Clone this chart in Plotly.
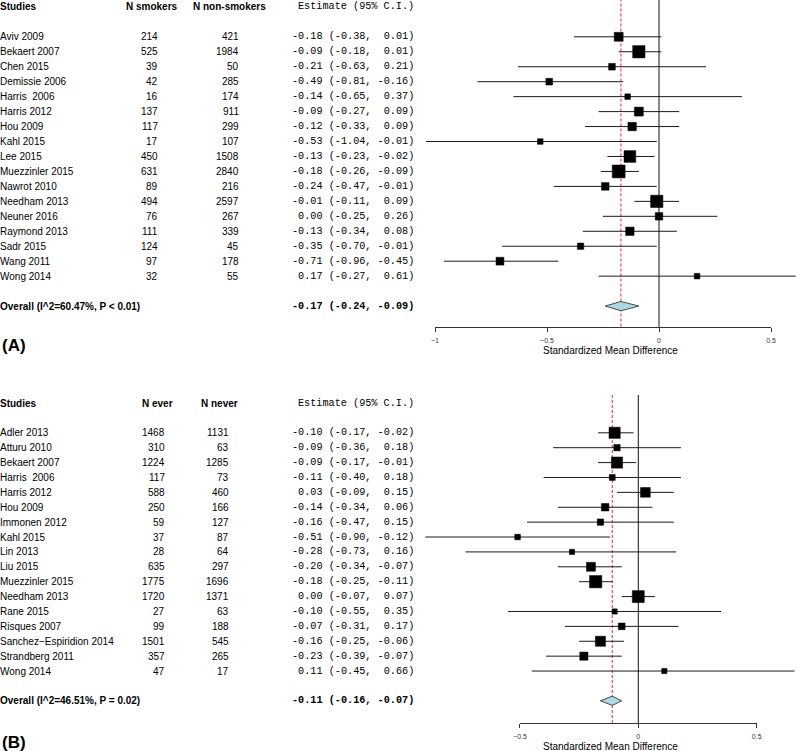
import plotly.graph_objects as go

# ---------------- Panel A: smokers vs non-smokers ----------------
studies_A = ["Aviv 2009", "Bekaert 2007", "Chen 2015", "Demissie 2006", "Harris  2006",
             "Harris 2012", "Hou 2009", "Kahl 2015", "Lee 2015", "Muezzinler 2015",
             "Nawrot 2010", "Needham 2013", "Neuner 2016", "Raymond 2013", "Sadr 2015",
             "Wang 2011", "Wong 2014"]
n_smokers = [214, 525, 39, 42, 16, 137, 117, 17, 450, 631, 89, 494, 76, 111, 124, 97, 32]
n_nonsmokers = [421, 1984, 50, 285, 174, 911, 299, 107, 1508, 2840, 216, 2597, 267, 339, 45, 178, 55]
est_A = [-0.18, -0.09, -0.21, -0.49, -0.14, -0.09, -0.12, -0.53, -0.13, -0.18,
         -0.24, -0.01, 0.00, -0.13, -0.35, -0.71, 0.17]
lo_A = [-0.38, -0.18, -0.63, -0.81, -0.65, -0.27, -0.33, -1.04, -0.23, -0.26,
        -0.47, -0.11, -0.25, -0.34, -0.70, -0.96, -0.27]
hi_A = [0.01, 0.01, 0.21, -0.16, 0.37, 0.09, 0.09, -0.01, -0.02, -0.09,
        -0.01, 0.09, 0.26, 0.08, -0.01, -0.45, 0.61]
# relative study weights
weight_A = [8, 11, 6, 6, 5, 8, 7.5, 5, 10.5, 11.5, 6.8, 11, 6.7, 7.5, 5.7, 7, 5]
overall_A = (-0.17, -0.24, -0.09)
overall_label_A = "Overall (I^2=60.47%, P < 0.01)"
col_headers_A = ["Studies", "N smokers", "N non-smokers", "Estimate (95% C.I.)"]
ticks_A = [-1, -0.5, 0, 0.5]
tick_labels_A = ["\u22121", "\u22120.5", "0", "0.5"]

# ---------------- Panel B: ever vs never ----------------
studies_B = ["Adler 2013", "Atturu 2010", "Bekaert 2007", "Harris  2006", "Harris 2012",
             "Hou 2009", "Immonen 2012", "Kahl 2015", "Lin 2013", "Liu 2015",
             "Muezzinler 2015", "Needham 2013", "Rane 2015", "Risques 2007",
             "Sanchez\u2212Espiridion 2014", "Strandberg 2011", "Wong 2014"]
n_ever = [1468, 310, 1224, 117, 588, 250, 59, 37, 28, 635, 1775, 1720, 27, 99, 1501, 357, 47]
n_never = [1131, 63, 1285, 73, 460, 166, 127, 87, 64, 297, 1696, 1371, 63, 188, 545, 265, 17]
est_B = [-0.10, -0.09, -0.09, -0.11, 0.03, -0.14, -0.16, -0.51, -0.28, -0.20,
         -0.18, 0.00, -0.10, -0.07, -0.16, -0.23, 0.11]
lo_B = [-0.17, -0.36, -0.17, -0.40, -0.09, -0.34, -0.47, -0.90, -0.73, -0.34,
        -0.25, -0.07, -0.55, -0.31, -0.25, -0.39, -0.45]
hi_B = [-0.02, 0.18, -0.01, 0.18, 0.15, 0.06, 0.15, -0.12, 0.16, -0.07,
        -0.11, 0.07, 0.35, 0.17, -0.06, -0.07, 0.66]
weight_B = [10, 5.7, 10, 5.3, 8.7, 6.7, 5.7, 5, 4.7, 8, 11, 10.7, 4.7, 6, 9, 7.3, 4.7]
overall_B = (-0.11, -0.16, -0.07)
overall_label_B = "Overall (I^2=46.51%, P = 0.02)"
col_headers_B = ["Studies", "N ever", "N never", "Estimate (95% C.I.)"]
ticks_B = [-0.5, 0, 0.5]
tick_labels_B = ["\u22120.5", "0", "0.5"]

axis_title = "Standardized Mean Difference"

# ---------------- layout constants (pixels) ----------------
W, H = 796, 751
SANS = "Liberation Sans, Arial, Helvetica, sans-serif"
MONO = "Liberation Mono, Courier New, monospace"
TXT = "#000000"
BOX_SCALE = 1.12


def fmt_est(e, l, h):
    s = "%5.2f (%5.2f, %5.2f)" % (e, l, h)
    return s.replace(" ", "\u00a0")


def nb(s):
    return s.replace("  ", " \u00a0")


fig = go.Figure()
annotations = []
shapes = []


def build_panel(p):
    xa, ya, xv = p["xa"], p["ya"], p["xv"]
    rows = list(range(len(p["studies"])))
    ov_row = len(rows) + 1
    # CI lines
    xs, ys = [], []
    for r, l, h in zip(rows, p["lo"], p["hi"]):
        xs += [l, h, None]
        ys += [r, r, None]
    fig.add_trace(go.Scatter(x=xs, y=ys, mode="lines", line=dict(color="#1a1a1a", width=1),
                             xaxis=xa, yaxis=ya, hoverinfo="skip", showlegend=False))
    # boxes
    fig.add_trace(go.Scatter(x=p["est"], y=rows, mode="markers",
                             marker=dict(symbol="square", size=[w * BOX_SCALE for w in p["w"]],
                                         color="#000000", opacity=1,
                                         line=dict(width=0.5, color="#000000")),
                             xaxis=xa, yaxis=ya, hoverinfo="skip", showlegend=False))
    # overall diamond
    e, l, h = p["overall"]
    dh = 0.31
    fig.add_trace(go.Scatter(x=[l, e, h, e, l], y=[ov_row, ov_row - dh, ov_row, ov_row + dh, ov_row],
                             mode="lines", fill="toself", fillcolor="#ADD8E6",
                             line=dict(color="#222222", width=0.8),
                             xaxis=xa, yaxis=ya, hoverinfo="skip", showlegend=False))
    # invisible trace to carry the visible x axis
    fig.add_trace(go.Scatter(x=p["ticks"], y=[p["axis_row"]] * len(p["ticks"]), mode="markers",
                             marker=dict(opacity=0, size=1), xaxis=xv, yaxis=ya,
                             hoverinfo="skip", showlegend=False))
    yref = "y" if ya == "y" else "y2"
    xref = "x" if xa == "x" else "x2"
    # reference lines
    shapes.append(dict(type="line", xref=xref, yref=yref, x0=0, x1=0,
                       y0=p["top_row"], y1=p["axis_row"], line=dict(color="#111111", width=1),
                       layer="below"))
    shapes.append(dict(type="line", xref=xref, yref=yref, x0=e, x1=e,
                       y0=p["top_row"], y1=p["axis_row"],
                       line=dict(color="rgb(235,40,40)", width=1, dash="3px,2px"),
                       layer="below"))
    # table text
    def ann(text, xpx, row, anchor, font, size, bold=False):
        if bold:
            text = "<b>" + text + "</b>"
        annotations.append(dict(text=text, x=xpx / W, xref="paper", y=row, yref=yref,
                                xanchor=anchor, yanchor="middle", showarrow=False,
                                font=dict(family=font, size=size, color=TXT)))
    hdr = p["headers"]
    ann(hdr[0], -2, -2, "left", SANS, 10, True)
    ann(hdr[1], p["h1x"], -2, "left", SANS, 10, True)
    ann(hdr[2], p["h2x"], -2, "left", SANS, 10, True)
    ann(hdr[3].replace(" ", "\u00a0"), 416, -2, "right", MONO, 10.2)
    for r, name, a, b, ee, ll, hh in zip(rows, p["studies"], p["n1"], p["n2"],
                                          p["est"], p["lo"], p["hi"]):
        ann(nb(name), -2, r, "left", SANS, 10)
        ann(str(a), p["c1x"], r, "right", SANS, 10)
        ann(str(b), p["c2x"], r, "right", SANS, 10)
        ann(fmt_est(ee, ll, hh), 416, r, "right", MONO, 10.2)
    ann(p["ov_label"], -2, ov_row, "left", SANS, 10, True)
    ann(fmt_est(e, l, h), 416, ov_row, "right", MONO, 10.2, True)
    # panel letter and axis title
    annotations.append(dict(text="<b>" + p["letter"] + "</b>", x=0 / W, xref="paper",
                            y=1 - p["letter_px"] / H, yref="paper", xanchor="left",
                            yanchor="middle", showarrow=False,
                            font=dict(family=SANS, size=17, color=TXT)))
    annotations.append(dict(text=axis_title, x=610 / W, xref="paper",
                            y=1 - p["title_px"] / H, yref="paper", xanchor="center",
                            yanchor="middle", showarrow=False,
                            font=dict(family=SANS, size=10, color=TXT)))


# pixel geometry
A = dict(xa="x", ya="y", xv="x3", studies=studies_A, n1=n_smokers, n2=n_nonsmokers,
         est=est_A, lo=lo_A, hi=hi_A, w=weight_A, overall=overall_A, ov_label=overall_label_A,
         headers=col_headers_A, ticks=ticks_A, h1x=124, h2x=191, c1x=160, c2x=241,
         letter="(A)", letter_px=345, title_px=351)
B = dict(xa="x2", ya="y2", xv="x4", studies=studies_B, n1=n_ever, n2=n_never,
         est=est_B, lo=lo_B, hi=hi_B, w=weight_B, overall=overall_B, ov_label=overall_label_B,
         headers=col_headers_B, ticks=ticks_B, h1x=140, h2x=199, c1x=167, c2x=231,
         letter="(B)", letter_px=742, title_px=746)

# panel A pixel mapping
x0A, sA, yA0, dyA = 659.0, 224.0, 36.8, 14.96
axpxA = 327
A["top_row"] = (0 - yA0) / dyA - 0.1
A["axis_row"] = (axpxA - yA0) / dyA
# panel B pixel mapping
x0B, sB, yB0, dyB = 638.3, 236.7, 432.8, 14.89
axpxB = 723
B["top_row"] = (395 - yB0) / dyB
B["axis_row"] = (axpxB - yB0) / dyB

build_panel(A)
build_panel(B)

yA_top, yA_bot = 0, 362
yB_top, yB_bot = 380, 751
eps = 1e-6

fig.update_layout(
    width=W, height=H, autosize=False,
    margin=dict(l=0, r=0, t=0, b=0, pad=0, autoexpand=False),
    paper_bgcolor="white", plot_bgcolor="rgba(0,0,0,0)",
    showlegend=False,
    xaxis=dict(domain=[0, 1], range=[(0 - x0A) / sA, (W - x0A) / sA], visible=False,
               anchor="y"),
    yaxis=dict(domain=[1 - yA_bot / H, 1 - yA_top / H],
               range=[(yA_bot - yA0) / dyA, (yA_top - yA0) / dyA], visible=False, anchor="x"),
    xaxis2=dict(domain=[0, 1], range=[(0 - x0B) / sB, (W - x0B) / sB], visible=False,
                anchor="y2"),
    yaxis2=dict(domain=[1 - yB_bot / H, 1 - yB_top / H],
                range=[(yB_bot - yB0) / dyB, (yB_top - yB0) / dyB], visible=False, anchor="x2"),
    xaxis3=dict(domain=[(x0A + ticks_A[0] * sA) / W, (x0A + ticks_A[-1] * sA) / W],
                range=[ticks_A[0] - eps, ticks_A[-1] + eps], anchor="free",
                position=1 - axpxA / H, showline=True, linecolor="#333333", linewidth=1,
                ticks="outside", ticklen=4, tickwidth=1, tickcolor="#333333",
                tickvals=ticks_A, ticktext=tick_labels_A, ticklabelstandoff=3,
                tickfont=dict(family=SANS, size=7, color="#333333"),
                showgrid=False, zeroline=False, automargin=False),
    xaxis4=dict(domain=[(x0B + ticks_B[0] * sB) / W, (x0B + ticks_B[-1] * sB) / W],
                range=[ticks_B[0] - eps, ticks_B[-1] + eps], anchor="free",
                position=1 - axpxB / H, showline=True, linecolor="#333333", linewidth=1,
                ticks="outside", ticklen=4, tickwidth=1, tickcolor="#333333",
                tickvals=ticks_B, ticktext=tick_labels_B, ticklabelstandoff=3,
                tickfont=dict(family=SANS, size=7, color="#333333"),
                showgrid=False, zeroline=False, automargin=False),
    annotations=annotations,
    shapes=shapes,
)

fig.write_html("out.html", config={"displayModeBar": False, "staticPlot": True},
               post_script="document.body.style.margin='0';document.body.style.overflow='hidden';")
